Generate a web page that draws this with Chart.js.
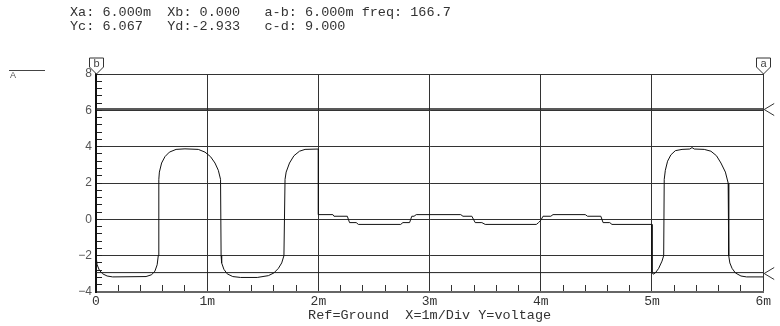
<!DOCTYPE html>
<html>
<head>
<meta charset="utf-8">
<script src="https://cdn.jsdelivr.net/npm/chart.js@4.4.1/dist/chart.umd.min.js"></script>
<style>
  html, body { margin: 0; padding: 0; background: #fff; }
</style>
</head>
<body>
<canvas id="scope" width="780" height="326"></canvas>
<script>
// readout text and axis labels
const headerLines = [
    'Xa: 6.000m  Xb: 0.000   a-b: 6.000m freq: 166.7',
    'Yc: 6.067   Yd:-2.933   c-d: 9.000'
];
const axisTitle = 'Ref=Ground  X=1m/Div Y=voltage';
const xTickLabels = ['0', '1m', '2m', '3m', '4m', '5m', '6m'];
const yTickValues = [-4, -2, 0, 2, 4, 6, 8];
const yTickLabels = ['\u22124', '\u22122', '0', '2', '4', '6', '8'];

// cursors
const cursorXa = 6;
const cursorXb = 0;
const cursorYc = 6.067;
const cursorYd = -2.933;

// trace (time in ms, voltage)
const waveT = [
    0, 0.01, 0.03, 0.06, 0.1, 0.15, 0.45, 0.5, 0.53, 0.55, 0.56, 0.565, 0.57, 0.59, 0.62, 0.66, 0.72, 0.8, 0.92, 0.98,
    1.03, 1.07, 1.1, 1.12, 1.125, 1.13, 1.15, 1.18, 1.23, 1.3, 1.45, 1.55, 1.6, 1.64, 1.67, 1.69, 1.7, 1.71, 1.74, 1.78,
    1.83, 1.88, 2.0,
    2.0, 2.13, 2.14, 2.26, 2.28, 2.34, 2.36, 2.74, 2.76, 2.82, 2.84, 2.86, 2.88, 3.28, 3.3, 3.38, 3.41, 3.47, 3.5, 3.96,
    3.98, 4.0, 4.02, 4.09, 4.11, 4.4, 4.42, 4.54, 4.56, 4.62, 4.64, 5.0,
    5.0, 5.01, 5.03, 5.06, 5.09, 5.105, 5.11, 5.12, 5.14, 5.17, 5.21, 5.27, 5.34, 5.36, 5.38, 5.47, 5.53, 5.58, 5.62, 5.66,
    5.685, 5.69, 5.7, 5.72, 5.75, 5.8, 5.85, 6.0
];
const waveV = [
    -2.0, -2.5, -2.8, -3.0, -3.12, -3.17, -3.15, -3.05, -2.85, -2.5, -2.0, 2.2, 2.6, 3.1, 3.45, 3.7, 3.85, 3.88, 3.85, 3.7,
    3.45, 3.1, 2.7, 2.2, -2.0, -2.4, -2.75, -3.0, -3.15, -3.2, -3.2, -3.1, -2.95, -2.7, -2.4, -2.0, 2.2, 2.6, 3.1, 3.5,
    3.75, 3.85, 3.87,
    0.26, 0.26, 0.17, 0.17, -0.18, -0.18, -0.28, -0.28, -0.18, -0.18, 0.17, 0.17, 0.26, 0.26, 0.17, 0.17, -0.18, -0.18, -0.28, -0.28,
    -0.18, -0.05, 0.17, 0.17, 0.26, 0.26, 0.17, 0.17, -0.18, -0.18, -0.28, -0.28,
    -2.9, -3.02, -2.95, -2.7, -2.3, -2.0, 2.2, 2.7, 3.2, 3.55, 3.78, 3.85, 3.87, 3.95, 3.87, 3.85, 3.75, 3.5, 3.1, 2.6,
    2.0, -2.0, -2.4, -2.7, -2.95, -3.12, -3.17, -3.17
];

const isMultiple = (v, step) => Math.abs(v / step - Math.round(v / step)) < 1e-6;

const scopeDecor = {
    id: 'scopeDecor',
    afterDraw(chart) {
        const c = chart.ctx;
        const area = chart.chartArea;
        const xs = chart.scales.x;
        const ys = chart.scales.y;
        c.save();

        // readout lines
        c.fillStyle = '#333';
        c.font = '13.5px "Liberation Mono", monospace';
        c.textAlign = 'left';
        c.textBaseline = 'middle';
        c.fillText(headerLines[0], 70, 12);
        c.fillText(headerLines[1], 70, 26);

        // channel tag
        c.strokeStyle = '#444';
        c.lineWidth = 1;
        c.beginPath();
        c.moveTo(9, 70.5);
        c.lineTo(45, 70.5);
        c.stroke();
        c.font = '9px "Liberation Sans", sans-serif';
        c.fillStyle = '#555';
        c.fillText('A', 10, 76);

        // x cursor flags
        [[cursorXb, 'b'], [cursorXa, 'a']].forEach(([v, name]) => {
            const px = Math.round(xs.getPixelForValue(v)) + 0.5;
            const top = area.top;
            c.beginPath();
            c.moveTo(px, top);
            c.lineTo(px - 7, top - 7);
            c.lineTo(px - 7, top - 16);
            c.lineTo(px + 7, top - 16);
            c.lineTo(px + 7, top - 7);
            c.closePath();
            c.fillStyle = '#fff';
            c.fill();
            c.strokeStyle = '#333';
            c.stroke();
            c.fillStyle = '#444';
            c.font = '11px "Liberation Sans", sans-serif';
            c.textAlign = 'center';
            c.fillText(name, px, top - 10);
        });

        // y cursor arrows
        [cursorYc, cursorYd].forEach(v => {
            const py = Math.round(ys.getPixelForValue(v)) + 0.5;
            const px = area.right + 1;
            c.strokeStyle = '#333';
            c.beginPath();
            c.moveTo(px + 10, py - 6);
            c.lineTo(px, py);
            c.lineTo(px + 10, py + 6);
            c.stroke();
        });
        c.restore();
    }
};

const ctx = document.getElementById('scope');
const scopeChart = new Chart(ctx, {
    type: 'line',
    data: {
        datasets: [
            {
                data: waveT.map((t, i) => ({ x: t, y: waveV[i] })),
                borderColor: '#111',
                borderWidth: 1,
                pointRadius: 0,
                tension: 0
            },
            {
                data: [{ x: 0, y: cursorYc }, { x: 6, y: cursorYc }],
                borderColor: '#222',
                borderWidth: 1.5,
                pointRadius: 0
            },
            {
                data: [{ x: 0, y: cursorYd }, { x: 6, y: cursorYd }],
                borderColor: '#222',
                borderWidth: 1,
                pointRadius: 0
            }
        ]
    },
    options: {
        responsive: false,
        animation: false,
        layout: {
            padding: { top: 74, right: 10, left: 0, bottom: 0 }
        },
        plugins: {
            legend: { display: false },
            tooltip: { enabled: false }
        },
        scales: {
            x: {
                type: 'linear',
                position: 'bottom',
                min: 0,
                max: 6,
                afterFit: s => { s.height = 34; },
                ticks: {
                    stepSize: 0.2,
                    autoSkip: false,
                    maxRotation: 0,
                    padding: 9,
                    color: '#333',
                    font: { family: 'Liberation Mono', size: 13 },
                    callback: v => isMultiple(v, 1) ? xTickLabels[Math.round(v)] : ''
                },
                grid: {
                    color: c => isMultiple(c.tick.value, 1) ? '#333' : 'rgba(0,0,0,0)',
                    tickColor: '#333',
                    tickLength: -7,
                    lineWidth: 1
                },
                border: { display: true, color: '#666', width: 2 },
                title: {
                    display: true,
                    text: axisTitle,
                    color: '#333',
                    font: { family: 'Liberation Mono', size: 13.5 },
                    padding: { top: 0, bottom: 2 }
                }
            },
            y: {
                type: 'linear',
                position: 'left',
                min: -4,
                max: 8,
                afterFit: s => { s.width = 96; },
                ticks: {
                    stepSize: 0.4,
                    autoSkip: false,
                    padding: 10,
                    color: '#555',
                    font: { family: 'Liberation Sans', size: 12 },
                    callback: v => {
                        const i = yTickValues.findIndex(t => Math.abs(t - v) < 1e-6);
                        return i >= 0 ? yTickLabels[i] : '';
                    }
                },
                grid: {
                    color: c => isMultiple(c.tick.value, 2) ? '#333' : 'rgba(0,0,0,0)',
                    tickColor: '#222',
                    tickLength: -6,
                    lineWidth: 1
                },
                border: { display: true, color: '#111', width: 2 }
            }
        }
    },
    plugins: [scopeDecor]
});
</script>
</body>
</html>
